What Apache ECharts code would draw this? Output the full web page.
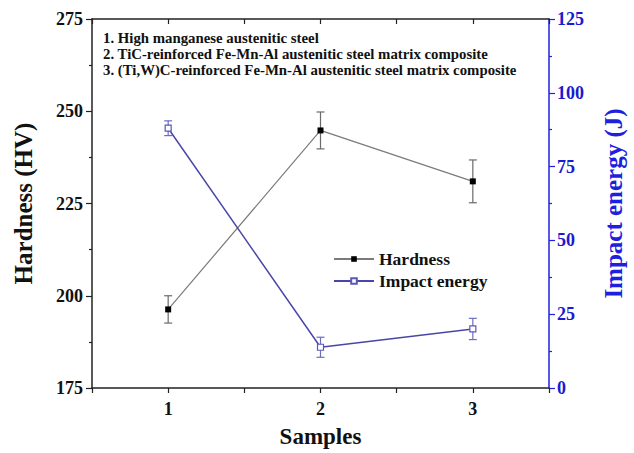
<!DOCTYPE html>
<html>
<head>
<meta charset="utf-8">
<script src="https://cdn.jsdelivr.net/npm/echarts@6/dist/echarts.min.js"></script>
<style>
  html, body { margin: 0; padding: 0; background: #fff; }
  #chart { width: 634px; height: 453px; }
</style>
</head>
<body>
<div id="chart"></div>
<script>
// Sample numbers on the x axis
const samples = [1, 2, 3];
// Vickers hardness (HV) and its standard deviation
const hardness = [196.3, 244.8, 231.0];
const hardnessErr = [3.7, 5.0, 5.8];
// Impact energy (J) and its standard deviation
const impact = [88.0, 13.8, 20.0];
const impactErr = [2.5, 3.4, 3.6];
// Sample descriptions
const notes = [
  '1. High manganese austenitic steel',
  '2. TiC-reinforced Fe-Mn-Al austenitic steel matrix composite',
  '3. (Ti,W)C-reinforced Fe-Mn-Al austenitic steel matrix composite'
];

const FONT = '"Liberation Serif", "Times New Roman", serif';
const BLUE_AXIS = '#1f1fe0';
const HARD_LINE = '#7a7a7a';
const IMP_LINE = '#4a46a8';
const IMP_ERR = '#6c6cc4';

function pairs(vals) {
  return samples.map((s, i) => [s, vals[i]]);
}
function errRows(vals, errs) {
  return samples.map((s, i) => [s, vals[i] - errs[i], vals[i] + errs[i]]);
}

// Vertical error bar with short caps
function errorBar(color) {
  return function (params, api) {
    const x = api.value(0);
    const lo = api.coord([x, api.value(1)]);
    const hi = api.coord([x, api.value(2)]);
    const cap = 4;
    const style = { stroke: color, lineWidth: 1.2, fill: null };
    return {
      type: 'group',
      children: [
        { type: 'line', shape: { x1: lo[0], y1: lo[1], x2: hi[0], y2: hi[1] }, style },
        { type: 'line', shape: { x1: lo[0] - cap, y1: lo[1], x2: lo[0] + cap, y2: lo[1] }, style },
        { type: 'line', shape: { x1: hi[0] - cap, y1: hi[1], x2: hi[0] + cap, y2: hi[1] }, style }
      ]
    };
  };
}

const chart = echarts.init(document.getElementById('chart'), null, { renderer: 'svg' });

const tickLabel = { fontFamily: FONT, fontWeight: 'bold', fontSize: 18, color: '#111' };

chart.setOption({
  animation: false,
  backgroundColor: '#fff',
  grid: { left: 92, right: 79, top: 19, bottom: 60 },
  graphic: [{
    type: 'text',
    left: 103,
    top: 30,
    style: {
      text: notes.join('\n'),
      font: 'bold 14.8px ' + FONT,
      lineHeight: 16,
      fill: '#111'
    }
  }],
  legend: {
    data: ['Hardness', 'Impact energy'],
    orient: 'vertical',
    left: 328,
    top: 245,
    itemWidth: 40,
    itemHeight: 7,
    itemGap: 4,
    textStyle: { fontFamily: FONT, fontWeight: 'bold', fontSize: 17.5, color: '#111' }
  },
  xAxis: [{
    type: 'value',
    min: 0.5,
    max: 3.5,
    interval: 0.5,
    name: 'Samples',
    nameLocation: 'middle',
    nameGap: 37,
    nameTextStyle: { fontFamily: FONT, fontWeight: 'bold', fontSize: 23, color: '#111' },
    axisLine: { lineStyle: { color: '#222', width: 1.5 } },
    axisTick: { length: 5, lineStyle: { color: '#222', width: 1.2 } },
    axisLabel: Object.assign({
      margin: 12,
      formatter: v => (Number.isInteger(v) && v >= 1 && v <= 3) ? String(v) : ''
    }, tickLabel),
    splitLine: { show: false }
  }, {
    type: 'value',
    position: 'top',
    min: 0.5,
    max: 3.5,
    interval: 0.5,
    axisLine: { lineStyle: { color: '#222', width: 1.5 } },
    axisTick: { inside: true, length: 5, lineStyle: { color: '#222', width: 1.2 } },
    axisLabel: { show: false },
    splitLine: { show: false }
  }],
  yAxis: [{
    type: 'value',
    min: 175,
    max: 275,
    interval: 25,
    name: 'Hardness (HV)',
    nameLocation: 'middle',
    nameRotate: 90,
    nameGap: 56,
    nameTextStyle: { fontFamily: FONT, fontWeight: 'bold', fontSize: 25, color: '#111' },
    axisLine: { show: true, lineStyle: { color: '#222', width: 1.5 } },
    axisTick: { show: true, length: 6, lineStyle: { color: '#222', width: 1.2 } },
    minorTick: { show: true, splitNumber: 2, length: 3, lineStyle: { color: '#222', width: 1.2 } },
    axisLabel: Object.assign({ margin: 9 }, tickLabel),
    splitLine: { show: false }
  }, {
    type: 'value',
    position: 'right',
    min: 0,
    max: 125,
    interval: 25,
    name: 'Impact energy (J)',
    nameLocation: 'middle',
    nameRotate: 90,
    nameGap: 52,
    nameTextStyle: { fontFamily: FONT, fontWeight: 'bold', fontSize: 25, color: BLUE_AXIS },
    axisLine: { show: true, lineStyle: { color: BLUE_AXIS, width: 1.5 } },
    axisTick: { show: true, length: 6, lineStyle: { color: BLUE_AXIS, width: 1.2 } },
    minorTick: { show: true, splitNumber: 2, length: 3, lineStyle: { color: BLUE_AXIS, width: 1.2 } },
    axisLabel: Object.assign({ margin: 8 }, tickLabel, { color: '#1a1ad0' }),
    splitLine: { show: false }
  }],
  series: [{
    name: 'Hardness',
    type: 'line',
    xAxisIndex: 0,
    yAxisIndex: 0,
    data: pairs(hardness),
    symbol: 'rect',
    symbolSize: 6,
    lineStyle: { color: HARD_LINE, width: 1.2 },
    itemStyle: { color: '#000', borderWidth: 0 },
    z: 5
  }, {
    name: 'Hardness error',
    type: 'custom',
    xAxisIndex: 0,
    yAxisIndex: 0,
    data: errRows(hardness, hardnessErr),
    renderItem: errorBar('#6a6a6a'),
    z: 4
  }, {
    name: 'Impact energy',
    type: 'line',
    xAxisIndex: 0,
    yAxisIndex: 1,
    data: pairs(impact),
    symbol: 'rect',
    symbolSize: 6,
    showAllSymbol: true,
    lineStyle: { color: IMP_LINE, width: 1.5 },
    itemStyle: { color: '#fff', borderColor: '#5b58b8', borderWidth: 1.2 },
    z: 5
  }, {
    name: 'Impact energy error',
    type: 'custom',
    xAxisIndex: 0,
    yAxisIndex: 1,
    data: errRows(impact, impactErr),
    renderItem: errorBar(IMP_ERR),
    z: 4
  }]
});
</script>
</body>
</html>
